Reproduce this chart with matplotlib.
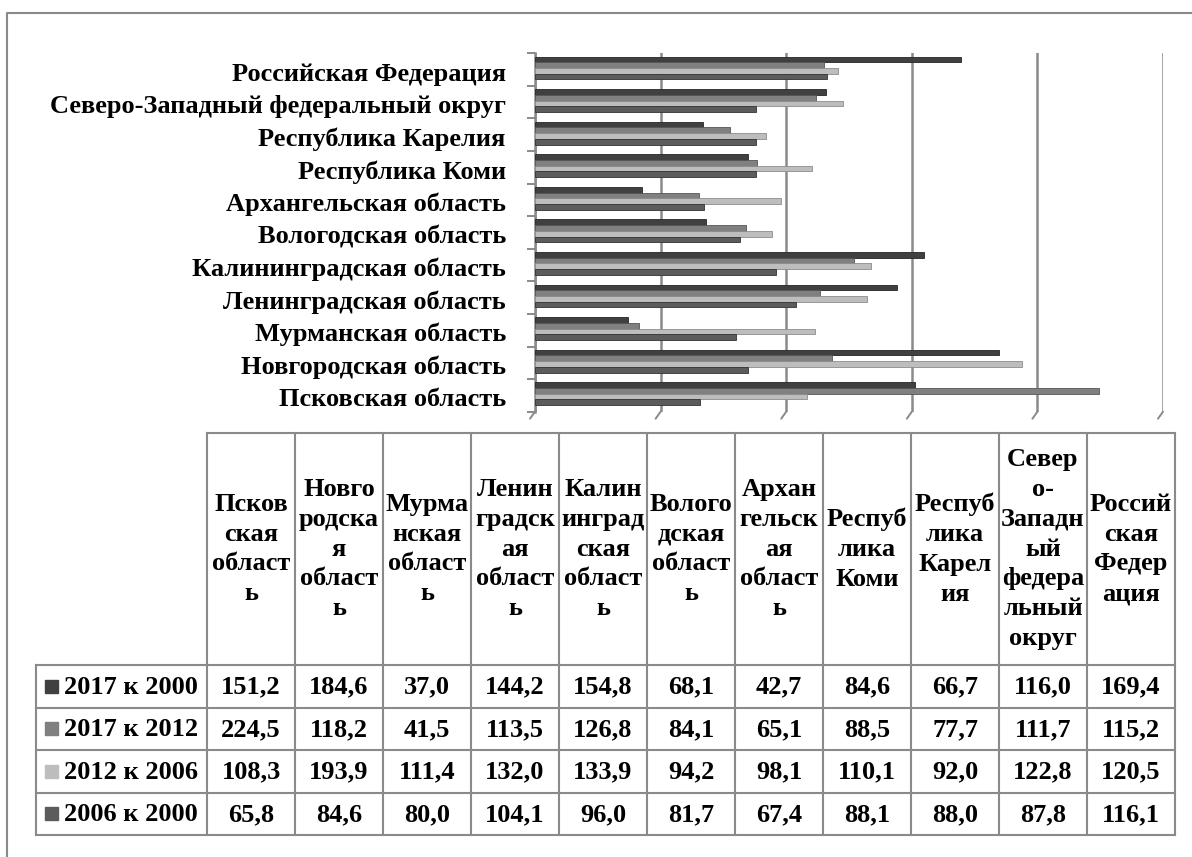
"""Horizontal bar chart of regional index ratios with an Excel-style data table below."""

import matplotlib

matplotlib.use("Agg")
import matplotlib.pyplot as plt
import numpy as np
from matplotlib.patches import Rectangle

# categories in table order (first one is drawn at the bottom of the chart)
regions = [
    "Псковская область",
    "Новгородская область",
    "Мурманская область",
    "Ленинградская область",
    "Калининградская область",
    "Вологодская область",
    "Архангельская область",
    "Республика Коми",
    "Республика Карелия",
    "Северо-Западный федеральный округ",
    "Российская Федерация",
]
header_labels = [
    "Псков\nская\nобласт\nь",
    "Новго\nродска\nя\nобласт\nь",
    "Мурма\nнская\nобласт\nь",
    "Ленин\nградск\nая\nобласт\nь",
    "Калин\nинград\nская\nобласт\nь",
    "Волого\nдская\nобласт\nь",
    "Архан\nгельск\nая\nобласт\nь",
    "Респуб\nлика\nКоми",
    "Респуб\nлика\nКарел\nия",
    "Север\nо-\nЗападн\nый\nфедера\nльный\nокруг",
    "Россий\nская\nФедер\nация",
]
series_names = ["2017 к 2000", "2017 к 2012", "2012 к 2006", "2006 к 2000"]
ratio_2017_2000 = [151.2, 184.6, 37.0, 144.2, 154.8, 68.1, 42.7, 84.6, 66.7, 116.0, 169.4]
ratio_2017_2012 = [224.5, 118.2, 41.5, 113.5, 126.8, 84.1, 65.1, 88.5, 77.7, 111.7, 115.2]
ratio_2012_2006 = [108.3, 193.9, 111.4, 132.0, 133.9, 94.2, 98.1, 110.1, 92.0, 122.8, 120.5]
ratio_2006_2000 = [65.8, 84.6, 80.0, 104.1, 96.0, 81.7, 67.4, 88.1, 88.0, 87.8, 116.1]
grid_values = [0, 50, 100, 150, 200, 250]

SERIES_COLORS = ["#404040", "#808080", "#bdbdbd", "#5c5c5c"]
EDGE_COLORS = ["#262626", "#555555", "#8c8c8c", "#333333"]
LINE_COLOR = "#8a8a8a"

plt.rcParams["font.family"] = ["Liberation Serif", "DejaVu Sans"]
plt.rcParams["font.weight"] = "bold"

W, H = 1192, 857
FONT_SIZE = 19


def fig_box(left, top, right, bottom):
    """Convert a pixel box (top-left origin) to a figure-fraction rect."""
    return [left / W, 1 - bottom / H, (right - left) / W, (bottom - top) / H]


fig = plt.figure(figsize=(W / 100, H / 100), dpi=100)

# ---- bar chart ----
ax = fig.add_axes(fig_box(535, 53.3, 1163, 411.7))
series = [ratio_2017_2000, ratio_2017_2012, ratio_2012_2006, ratio_2006_2000]
positions = np.arange(len(regions))
bar_height = 0.175
for i, values in enumerate(series):
    offset = 0.05 + (1.5 - i) * bar_height
    ax.barh(
        positions + offset,
        values,
        height=bar_height,
        color=SERIES_COLORS[i],
        edgecolor=EDGE_COLORS[i],
        linewidth=0.6,
        zorder=3,
    )

ax.set_xlim(grid_values[0], grid_values[-1])
ax.set_ylim(-0.5, len(regions) - 0.5)
ax.set_xticks(grid_values)
ax.grid(axis="x", color=LINE_COLOR, linewidth=1.8, zorder=1)
ax.tick_params(axis="x", length=0, labelbottom=False)

ax.set_yticks(np.arange(-0.5, len(regions)))
ax.set_yticklabels([])
ax.tick_params(axis="y", which="major", length=6, width=1.4, color=LINE_COLOR)
ax.set_yticks(positions - 0.06, labels=regions, minor=True)
ax.tick_params(axis="y", which="minor", length=0, pad=21, labelsize=FONT_SIZE)

for side in ("top", "right", "bottom"):
    ax.spines[side].set_visible(False)
ax.spines["left"].set_color(LINE_COLOR)
ax.spines["left"].set_linewidth(1.8)

# small slanted floor ticks under each gridline
for xv in grid_values:
    ax.annotate(
        "",
        xy=(xv, -0.5),
        xytext=(-5, -7),
        textcoords="offset pixels",
        arrowprops=dict(arrowstyle="-", color=LINE_COLOR, lw=1.4, shrinkA=0, shrinkB=0),
        annotation_clip=False,
    )

# ---- data table ----
tab = fig.add_axes([0, 0, 1, 1])
tab.set_xlim(0, W)
tab.set_ylim(H, 0)
tab.axis("off")

# outer frame (left and top edges visible)
tab.plot([7, 7, W + 5], [H + 5, 13, 13], color=LINE_COLOR, lw=1.5, clip_on=False)

row_left = 36
col_edges = 207 + 88 * np.arange(len(regions) + 1)
header_top, header_bottom = 433, 665
row_edges = header_bottom + 42.5 * np.arange(len(series) + 1)

tab.plot([col_edges[0], col_edges[-1]], [header_top, header_top], color=LINE_COLOR, lw=1.5)
for y in row_edges:
    tab.plot([row_left, col_edges[-1]], [y, y], color=LINE_COLOR, lw=1.5)
tab.plot([row_left, row_left], [row_edges[0], row_edges[-1]], color=LINE_COLOR, lw=1.5)
for x in col_edges:
    tab.plot([x, x], [header_top, row_edges[-1]], color=LINE_COLOR, lw=1.5)

col_centers = (col_edges[:-1] + col_edges[1:]) / 2
for cx, label in zip(col_centers, header_labels):
    tab.text(cx, (header_top + header_bottom) / 2, label, ha="center", va="center",
             fontsize=FONT_SIZE, linespacing=1.38)

for r, (name, values) in enumerate(zip(series_names, series)):
    cy = (row_edges[r] + row_edges[r + 1]) / 2
    tab.add_patch(Rectangle((45, cy - 6.5), 13, 13, color=SERIES_COLORS[r]))
    tab.text(64, cy + 1, name, ha="left", va="center", fontsize=FONT_SIZE)
    for cx, v in zip(col_centers, values):
        tab.text(cx, cy + 1, f"{v:.1f}".replace(".", ","), ha="center", va="center",
                 fontsize=FONT_SIZE)

fig.savefig("out.png", dpi=100)
plt.close(fig)
